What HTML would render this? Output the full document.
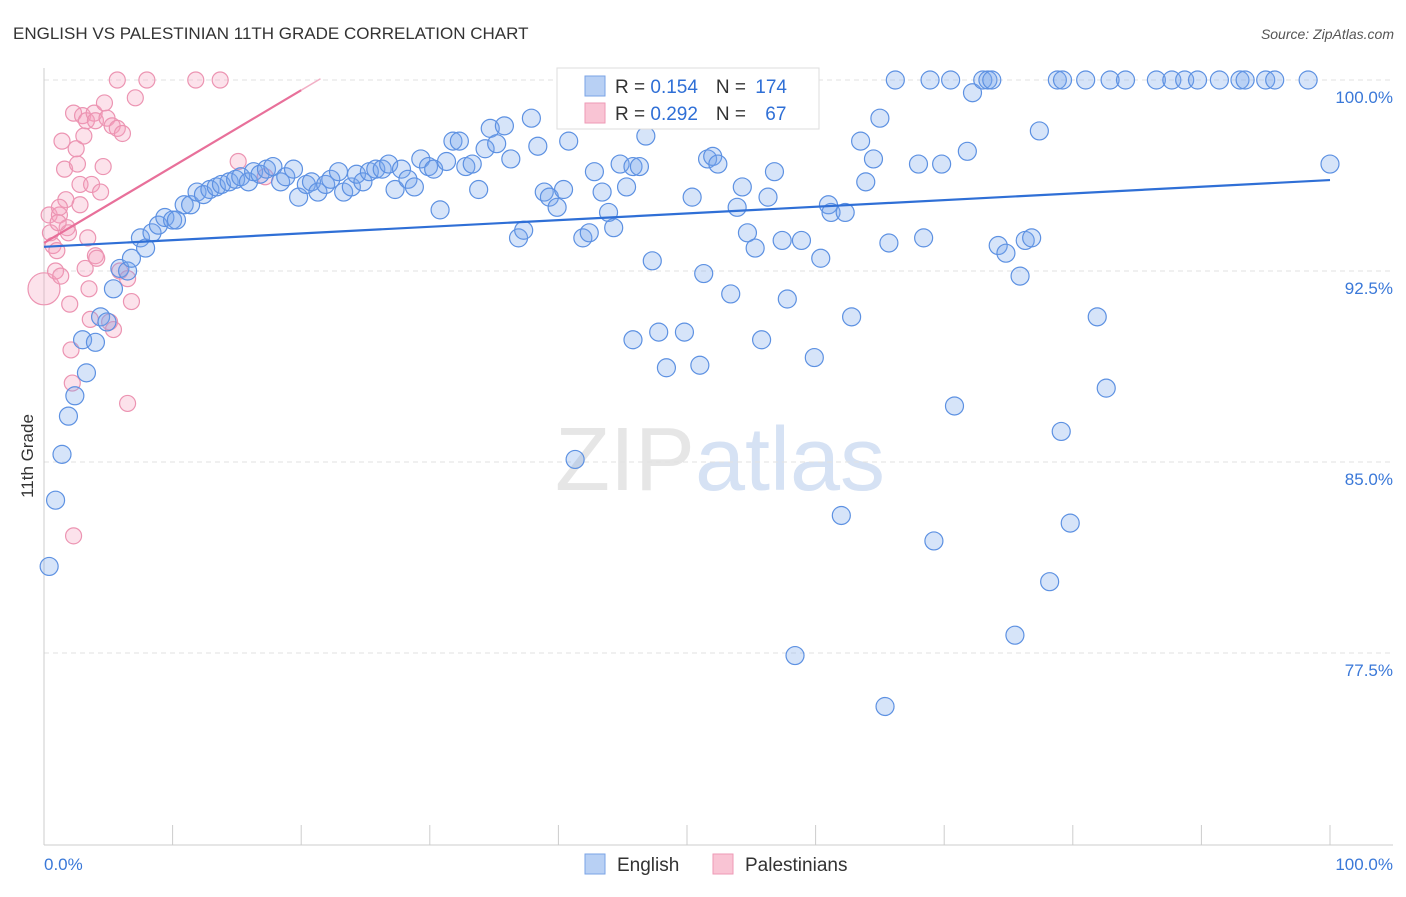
<!DOCTYPE html>
<html><head><meta charset="utf-8">
<style>
body{margin:0;background:#fff;font-family:"Liberation Sans",sans-serif}
svg text{font-family:"Liberation Sans",sans-serif}
</style></head>
<body>
<svg id="chart" width="1406" height="892" viewBox="0 0 1406 892" xmlns="http://www.w3.org/2000/svg">
<text x="13" y="39" font-size="17" fill="#333">ENGLISH VS PALESTINIAN 11TH GRADE CORRELATION CHART</text>
<text x="1394" y="39" font-size="14" fill="#555" text-anchor="end" font-style="italic">Source: ZipAtlas.com</text>
<text x="720" y="490" font-size="90" text-anchor="middle" fill="#e6e6e6" font-family="Liberation Serif">ZIP<tspan fill="#d6e2f4" font-family="Liberation Sans">atlas</tspan></text>
<g id="grid"></g>
<g id="axes"></g>
<g id="pink"></g>
<g id="blue"></g>
<g id="trends"></g>
<text transform="translate(33,456) rotate(-90)" font-size="17" fill="#333" text-anchor="middle">11th Grade</text>
<g>
<rect x="557" y="68" width="262" height="61" fill="#fff" stroke="#ddd"/>
<rect x="585" y="76" width="20" height="20" fill="#b8d0f4" stroke="#7aa3e6"/>
<rect x="585" y="103" width="20" height="20" fill="#f9c4d4" stroke="#ee9ab6"/>
<text x="615" y="93" font-size="19" fill="#333">R = <tspan fill="#2f6fd6">0.154</tspan><tspan dx="18">N = </tspan><tspan fill="#2f6fd6" dx="4">174</tspan></text>
<text x="615" y="120" font-size="19" fill="#333">R = <tspan fill="#2f6fd6">0.292</tspan><tspan dx="18">N = </tspan><tspan fill="#2f6fd6" dx="14">67</tspan></text>
</g>
<g>
<rect x="585" y="854" width="20" height="20" fill="#b8d0f4" stroke="#7aa3e6"/>
<text x="617" y="871" font-size="19" fill="#333">English</text>
<rect x="713" y="854" width="20" height="20" fill="#f9c4d4" stroke="#ee9ab6"/>
<text x="745" y="871" font-size="19" fill="#333">Palestinians</text>
</g>
</svg>
<script>
const yTicks=[100,92.5,85,77.5];
const yTickLabels=["100.0%","92.5%","85.0%","77.5%"];
const xTickLabels=["0.0%","100.0%"];
const englishX=[0.4,0.9,1.4,1.9,2.4,3.3,3.0,4.0,4.4,4.9,5.4,5.9,6.5,6.8,7.5,7.9,8.4,8.9,9.4,10.0,10.3,10.9,11.4,11.9,12.4,12.9,13.4,13.8,14.4,14.9,15.3,15.9,16.3,16.8,17.3,17.8,18.4,18.8,19.4,19.8,20.4,20.8,21.3,21.9,22.3,22.9,23.3,23.9,24.3,24.8,25.3,25.8,26.3,26.8,27.3,27.8,28.3,28.8,29.3,29.9,30.3,30.8,31.3,31.8,32.3,32.8,33.3,33.8,34.3,34.7,35.2,35.8,36.3,36.9,37.3,37.9,38.4,38.9,39.3,39.9,40.4,40.8,41.3,41.9,42.4,42.8,43.4,43.9,44.3,44.8,45.3,45.8,46.3,46.8,47.3,45.8,47.8,48.4,49.8,50.4,51.0,51.3,51.6,52.0,52.4,53.4,53.9,54.3,54.7,55.3,55.8,56.3,56.8,57.4,57.8,58.4,58.9,59.9,60.4,61.0,61.2,62.0,62.3,62.8,63.5,63.9,64.5,65.0,65.7,65.4,68.0,68.4,69.2,69.8,70.8,71.8,72.2,74.2,74.8,75.5,75.9,76.3,76.8,77.4,78.2,79.1,79.8,81.9,82.6,100,59.3,66.2,68.9,70.5,73.0,73.4,73.7,78.8,79.2,81.0,82.9,84.1,86.5,87.7,88.7,89.7,91.4,93.0,93.4,95.0,95.7,98.3];
const englishY=[80.9,83.5,85.3,86.8,87.6,88.5,89.8,89.7,90.7,90.5,91.8,92.6,92.5,93.0,93.8,93.4,94.0,94.3,94.6,94.5,94.5,95.1,95.1,95.6,95.5,95.7,95.8,95.9,96.0,96.1,96.2,96.0,96.4,96.3,96.5,96.6,96.0,96.2,96.5,95.4,95.9,96.0,95.6,95.9,96.1,96.4,95.6,95.8,96.3,96.0,96.4,96.5,96.5,96.7,95.7,96.5,96.1,95.8,96.9,96.6,96.5,94.9,96.8,97.6,97.6,96.6,96.7,95.7,97.3,98.1,97.5,98.2,96.9,93.8,94.1,98.5,97.4,95.6,95.4,95.0,95.7,97.6,85.1,93.8,94.0,96.4,95.6,94.8,94.2,96.7,95.8,96.6,96.6,97.8,92.9,89.8,90.1,88.7,90.1,95.4,88.8,92.4,96.9,97.0,96.7,91.6,95.0,95.8,94.0,93.4,89.8,95.4,96.4,93.7,91.4,77.4,93.7,89.1,93.0,95.1,94.8,82.9,94.8,90.7,97.6,96.0,96.9,98.5,93.6,75.4,96.7,93.8,81.9,96.7,87.2,97.2,99.5,93.5,93.2,78.2,92.3,93.7,93.8,98.0,80.3,86.2,82.6,90.7,87.9,96.7,99.5,100,100,100,100,100,100,100,100,100,100,100,100,100,100,100,100,100,100,100,100,100];
const palX=[0,0.4,0.5,0.7,0.9,1.0,1.2,1.3,1.4,1.6,1.7,1.8,1.9,2.0,2.1,2.2,2.3,2.3,2.5,2.6,2.8,3.0,3.1,3.2,3.3,3.4,3.5,3.6,3.7,3.9,4.0,4.0,4.1,4.4,4.6,4.7,4.9,5.1,5.3,5.4,5.7,5.9,6.1,6.5,6.8,7.1,5.7,8.0,11.8,13.7,15.1,17.2,2.8,1.2,1.1,6.5];
const palY=[91.8,94.7,94.0,93.5,92.5,93.3,94.7,92.3,97.6,96.5,95.3,94.2,94.0,91.2,89.4,88.1,82.1,98.7,97.3,96.7,95.9,98.6,97.8,92.6,98.4,93.8,91.8,90.6,95.9,98.7,93.1,98.4,93.0,95.6,96.6,99.1,98.5,90.5,98.2,90.2,98.1,92.5,97.9,87.3,91.3,99.3,100,100,100,100,96.8,96.2,95.1,95.0,94.4,92.2];
const englishTrend=[93.45,96.07];
const palTrend=[93.6,99.6];

const NS="http://www.w3.org/2000/svg";
const X0=44,X1=1330,YT=80,PX=191/7.5;
const xs=v=>X0+(X1-X0)*v/100;
const ys=v=>YT+(100-v)*PX;
function mk(tag,attrs,parent){const e=document.createElementNS(NS,tag);for(const k in attrs)e.setAttribute(k,attrs[k]);parent.appendChild(e);return e;}
const grid=document.getElementById('grid'),axes=document.getElementById('axes');
yTicks.forEach((t,i)=>{
  const g=mk('line',{x1:X0,x2:1393,y1:ys(t),y2:ys(t),stroke:'#e2e2e2','stroke-dasharray':'5,4'},grid);
  
  
  const tx=mk('text',{x:1393,y:ys(t)+23,'font-size':17,fill:'#3a78d8','text-anchor':'end'},axes);
  tx.textContent=yTickLabels[i];
  
  
});
mk('line',{x1:X0,x2:X0,y1:68,y2:845,stroke:'#ccc'},axes);
mk('line',{x1:X0,x2:1393,y1:845,y2:845,stroke:'#ccc'},axes);
for(let i=0;i<=10;i++){const t=mk('line',{x1:xs(i*10),x2:xs(i*10),y1:825,y2:845,stroke:'#ccc'},axes);
  
  }
const xl0=mk('text',{x:44,y:870,'font-size':17,fill:'#3a78d8'},axes);xl0.textContent=xTickLabels[0];


const xl1=mk('text',{x:1393,y:870,'font-size':17,fill:'#3a78d8','text-anchor':'end'},axes);xl1.textContent=xTickLabels[1];


const pink=document.getElementById('pink'),blue=document.getElementById('blue');
palX.forEach((v,i)=>{const c=mk('circle',{cx:xs(v),cy:ys(palY[i]),r:i===0?16:8,fill:'rgba(244,160,188,0.3)',stroke:'#ec94b2','stroke-width':1.2},pink);
  
  });
englishX.forEach((v,i)=>{const c=mk('circle',{cx:xs(v),cy:ys(englishY[i]),r:9,fill:'rgba(120,165,235,0.3)',stroke:'#5d91e2','stroke-width':1.2},blue);
  
  });
const tr=document.getElementById('trends');
const bl=mk('line',{x1:xs(0),y1:ys(englishTrend[0]),x2:xs(100),y2:ys(englishTrend[1]),stroke:'#2f6fd6','stroke-width':2.2},tr);


const pl=mk('line',{x1:xs(0),y1:ys(palTrend[0]),x2:xs(20),y2:ys(palTrend[1]),stroke:'#e8709a','stroke-width':2.2},tr);


const slope=(palTrend[1]-palTrend[0])/20;
const pd=mk('line',{x1:xs(20),y1:ys(palTrend[1]),x2:xs(21.5),y2:ys(palTrend[1]+slope*1.5),stroke:'#f2b0c6','stroke-width':1.5},tr);


</script>
</body></html>
